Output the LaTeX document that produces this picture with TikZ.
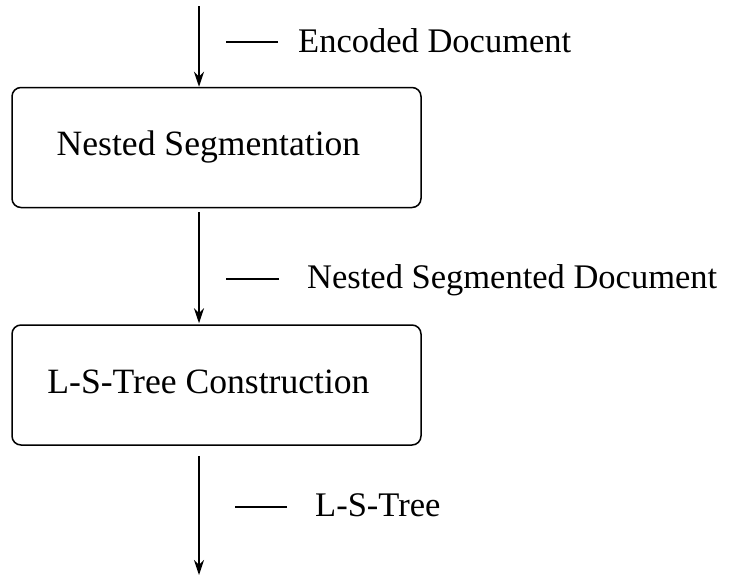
\documentclass[tikz,border=0pt]{standalone}
\usepackage{fontspec}
\setmainfont{Liberation Serif}
\usetikzlibrary{arrows.meta}
\tikzset{
  stage/.style={draw, line width=1.5pt, rounded corners=9pt, minimum width=409pt,
    minimum height=120pt, text height=23pt, text depth=7pt, inner sep=0pt,
    font=\fontsize{35.6}{40}\selectfont, execute at begin node=\hspace*{-16pt}},
  flow/.style={line width=1.5pt, -{Stealth[length=15pt,width=10pt]}},
  tag/.style={anchor=base west, inner sep=0pt},
  lead/.style={line width=1.2pt}
}
\begin{document}
\begin{tikzpicture}[x=1pt,y=-1pt,font=\fontsize{34.5}{40}\selectfont]
            \useasboundingbox (0,0) rectangle (733,579);
            \node [stage] (nseg) at (216.5,147.5) {Nested Segmentation};
            \node [stage] (lstc) at (216.5,385) {L-S-Tree Construction};
            \coordinate (src) at (199,6);
            \coordinate (sink) at (199,575);
            \draw [flow] (src) -- (src |- nseg.north);
            \draw [flow, shorten <=4pt, shorten >=1pt] (src |- nseg.south) -- (src |- lstc.north);
            \draw [flow, shorten <=10pt] (src |- lstc.south) -- (sink);
            % data between the stages
            \node [tag] (enc) at (298,52) {Encoded Document};
            \node [tag] (nsd) at (307,288) {Nested Segmented Document};
            \node [tag] (lst) at (315,516) {L-S-Tree};
            \draw [lead] ([xshift=-20pt,yshift=10pt]enc.base west) -- ++(-52,0);
            \draw [lead] ([xshift=-28pt,yshift=9pt]nsd.base west) -- ++(-53,0);
            \draw [lead] ([xshift=-28pt,yshift=9pt]lst.base west) -- ++(-52,0);
        \end{tikzpicture}
\end{document}
